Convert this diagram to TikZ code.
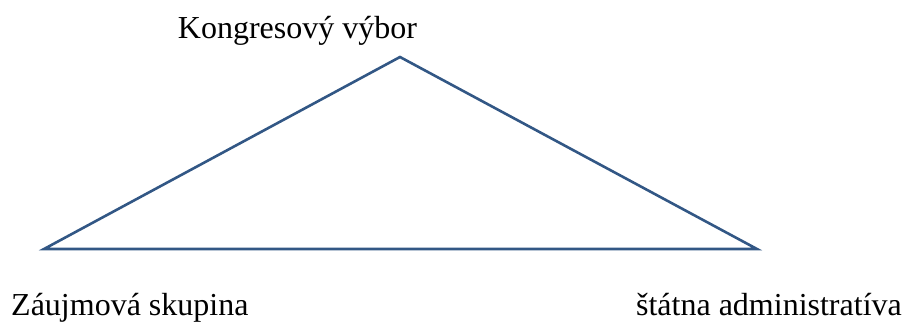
\documentclass[tikz,border=0pt]{standalone}
\usepackage{fontspec}
\setmainfont{Liberation Serif}
\usetikzlibrary{positioning}
\definecolor{edgeblue}{RGB}{50,87,133}

\begin{document}
\begin{tikzpicture}[x=1pt,y=-1pt]
  \tikzset{side/.style={draw=edgeblue,line width=2.6pt,line join=miter},
    actor/.style={inner sep=0pt,font=\fontsize{32}{38}\selectfont}}
  \useasboundingbox (0,0) rectangle (906,322);
  \coordinate (top) at (400,57);
  \coordinate (lft) at (44,249);
  \coordinate (rgt) at (757,249);
  \node[actor,anchor=base] (kv) at (297.5,38) {Kongresový výbor};
  \node[actor,anchor=base west] (zs) at (11,315) {Záujmová skupina};
  \node[actor,anchor=base east] (sa) at (902,315) {štátna administratíva};
  \draw[side] (top) -- (rgt) -- (lft) -- cycle;
\end{tikzpicture}
\end{document}
